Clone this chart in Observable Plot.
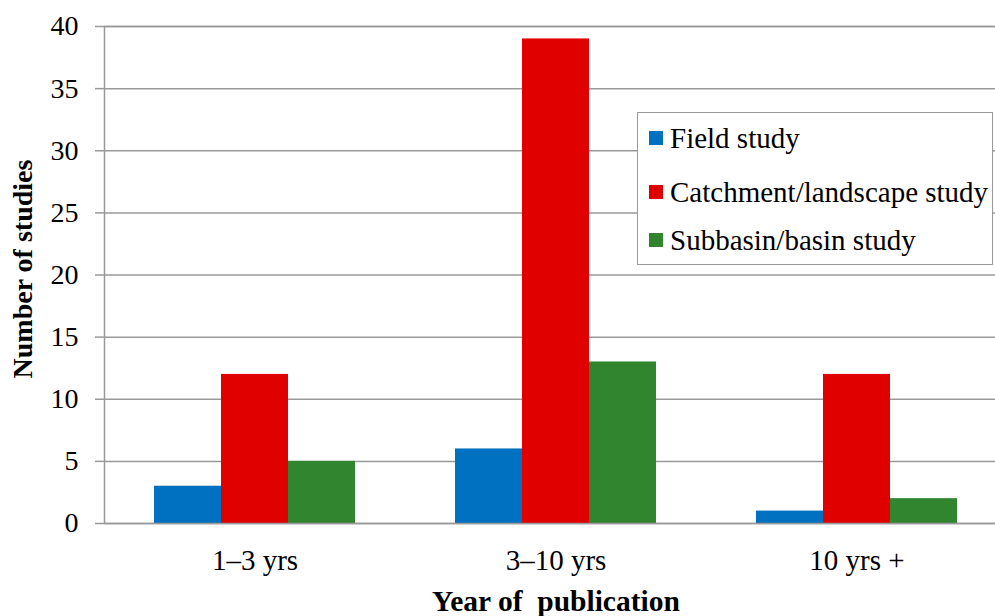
<!DOCTYPE html>
<html>
<head>
<meta charset="utf-8">
<script src="https://cdn.jsdelivr.net/npm/d3@7"></script>
<script src="https://cdn.jsdelivr.net/npm/@observablehq/plot@0.6"></script>
<style>
  html, body { margin: 0; padding: 0; background: #fff; }
  #wrap { position: relative; width: 995px; height: 616px; overflow: hidden; font-family: "Liberation Serif", "Times New Roman", serif; }
  #chart svg { max-width: none !important; }
  #legend { position: absolute; left: 637px; top: 112px; width: 356px; height: 153px; border: 1.5px solid #999; background: #fff; box-sizing: border-box; }
  .item { position: absolute; left: 11px; height: 30px; display: flex; align-items: center; font-size: 29px; color: #000; white-space: nowrap; }
  .sw { width: 14px; height: 14px; margin-right: 7px; }
</style>
</head>
<body>
<div id="wrap"><div id="chart"></div><div id="legend"></div></div>
<script>
const categories = ["1–3 yrs", "3–10 yrs", "10 yrs +"];
const series = ["Field study", "Catchment/landscape study", "Subbasin/basin study"];
const colors = ["#0070C0", "#E00000", "#31852F"];
const fieldValues = [3, 6, 1];
const catchmentValues = [12, 39, 12];
const subbasinValues = [5, 13, 2];
const yTicks = [0, 5, 10, 15, 20, 25, 30, 35, 40];

const valuesBySeries = [fieldValues, catchmentValues, subbasinValues];
const data = [];
categories.forEach((c, i) => {
  series.forEach((s, j) => data.push({category: c, series: s, value: valuesBySeries[j][i]}));
});

const font = '"Liberation Serif", "Times New Roman", serif';
const plot = Plot.plot({
  width: 1007,
  height: 616,
  marginLeft: 104,
  marginRight: 0,
  marginTop: 26,
  marginBottom: 93,
  style: {fontFamily: font, fontSize: "28px", background: "#fff", color: "#000", maxWidth: "none"},
  fx: {domain: categories, padding: 0, label: null},
  x: {domain: series, paddingInner: 0, paddingOuter: 0.746, axis: null},
  y: {domain: [0, 40], label: null},
  color: {domain: series, range: colors},
  marks: [
    Plot.gridY(yTicks, {stroke: "#999", strokeOpacity: 1, strokeWidth: 1.5}),
    Plot.barY(data, {fx: "category", x: "series", y: "value", fill: "series"}),
    Plot.frame({stroke: "#999", strokeWidth: 1.5, facet: "super"}),
    Plot.axisY({ticks: yTicks, tickSize: 9, tickPadding: 17, stroke: "#999", strokeWidth: 1.5, fill: "#000", fontSize: 28, label: null}),
    Plot.axisFx({anchor: "bottom", tickSize: 0, tickPadding: 26, fontSize: 29, fill: "#000", label: null}),
    Plot.text(["Number of studies"], {frameAnchor: "left", textAnchor: "middle", lineAnchor: "middle", rotate: -90, dx: -81, dy: -6, fontWeight: "bold", fontSize: 28, fill: "#000", facet: "super"}),
    Plot.text(["Year of  publication"], {frameAnchor: "bottom", textAnchor: "middle", lineAnchor: "middle", dy: 78, fontWeight: "bold", fontSize: 29.5, fill: "#000", facet: "super"})
  ]
});
document.getElementById("chart").appendChild(plot);

const legend = document.getElementById("legend");
const centers = [25, 79, 127];
series.forEach((s, i) => {
  const item = document.createElement("div");
  item.className = "item";
  item.style.top = (centers[i] - 15) + "px";
  const sw = document.createElement("span");
  sw.className = "sw";
  sw.style.background = colors[i];
  const t = document.createElement("span");
  t.textContent = s;
  item.appendChild(sw);
  item.appendChild(t);
  legend.appendChild(item);
});
</script>
</body>
</html>
